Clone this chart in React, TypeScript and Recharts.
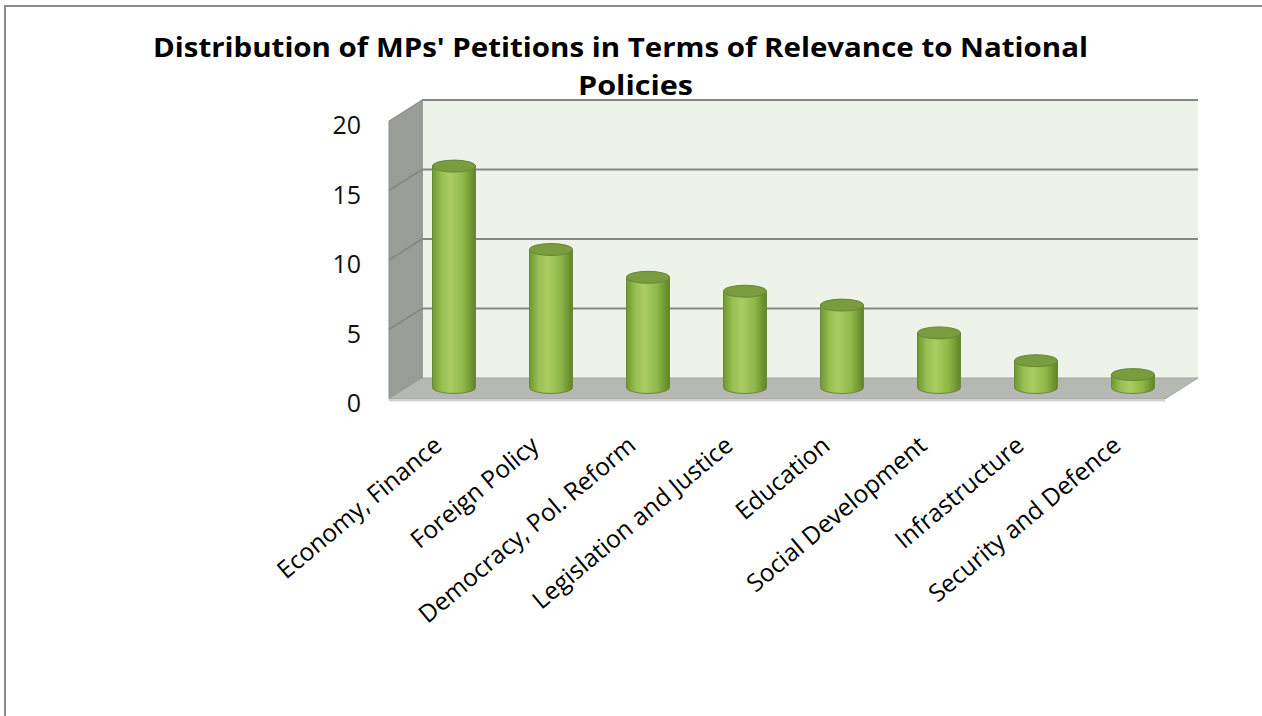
import { BarChart, Bar, XAxis, YAxis } from "recharts";

const categories = [
  "Economy, Finance",
  "Foreign Policy",
  "Democracy, Pol. Reform",
  "Legislation and Justice",
  "Education",
  "Social Development",
  "Infrastructure",
  "Security and Defence",
];
const petitions = [16, 10, 8, 7, 6, 4, 2, 1];
const yTicks = [0, 5, 10, 15, 20];

const data = categories.map((name, i) => ({ name, petitions: petitions[i] }));

// front plane of the 3D box (where the axes sit)
const W = 1262;
const H = 716;
const PL = 389;
const PT = 121;
const PR = 1165;
const PB = 399;
const DEPTH_X = 33;
const DEPTH_Y = -21;
const Y_AXIS_W = 60;
const X_AXIS_H = 30;

const fy = (v: number) => PT + (PB - PT) * (1 - v / 20);
const font = "'Open Sans', sans-serif";

function Cylinder(props: any) {
  const { x, y, width, height } = props;
  if (width == null || height == null) return null;
  const rx = width / 2;
  const ry = 6;
  const cx = x + rx + DEPTH_X / 2;
  const x0 = cx - rx;
  const x1 = cx + rx;
  const yt = y + DEPTH_Y / 2;
  const yb = y + height + DEPTH_Y / 2 - 1;
  return (
    <g>
      <path
        d={`M ${x0} ${yt} L ${x0} ${yb} A ${rx} ${ry} 0 0 0 ${x1} ${yb} L ${x1} ${yt} Z`}
        fill="url(#cylBody)"
        stroke="#67893a"
        strokeWidth={1}
      />
      <ellipse cx={cx} cy={yt} rx={rx} ry={ry} fill="#7a9c3c" stroke="#64863a" strokeWidth={1} />
    </g>
  );
}

function Backdrop() {
  const back = (v: number) => fy(v) + DEPTH_Y;
  return (
    <svg width={W} height={H} style={{ position: "absolute", left: 0, top: 0 }}>
      <path d={`M 5 ${H} L 5 6 L ${W} 6`} fill="none" stroke="#8a8a8a" strokeWidth={2} />
      <text
        x={153}
        y={57}
        textLength={935}
        lengthAdjust="spacingAndGlyphs"
        fontFamily={font}
        fontWeight={700}
        fontSize={26}
        fill="#000"
      >
        Distribution of MPs' Petitions in Terms of Relevance to National
      </text>
      <text
        x={578}
        y={95}
        textLength={115}
        lengthAdjust="spacingAndGlyphs"
        fontFamily={font}
        fontWeight={700}
        fontSize={26}
        fill="#000"
      >
        Policies
      </text>
      {/* back wall */}
      <rect x={PL + DEPTH_X} y={back(20)} width={PR - PL} height={back(0) - back(20)} fill="#eef3ea" />
      <line x1={PL + DEPTH_X} y1={back(20)} x2={PL + DEPTH_X} y2={back(0)} stroke="#9a9a9a" strokeWidth={1.5} />
      {yTicks
        .filter((v) => v > 0)
        .map((v) => (
          <line
            key={v}
            x1={PL + DEPTH_X}
            y1={back(v)}
            x2={PR + DEPTH_X}
            y2={back(v)}
            stroke="#878787"
            strokeWidth={2}
          />
        ))}
      {/* side wall */}
      <polygon
        points={`${PL},${fy(20)} ${PL + DEPTH_X},${back(20)} ${PL + DEPTH_X},${back(0)} ${PL},${PB}`}
        fill="#9a9c98"
        stroke="#8a8c88"
      />
      {yTicks
        .filter((v) => v > 0 && v < 20)
        .map((v) => (
          <line key={v} x1={PL} y1={fy(v)} x2={PL + DEPTH_X} y2={back(v)} stroke="#858783" strokeWidth={1.5} />
        ))}
      {/* floor */}
      <polygon
        points={`${PL},${PB} ${PR},${PB} ${PR + DEPTH_X},${back(0)} ${PL + DEPTH_X},${back(0)}`}
        fill="#b6b8b4"
        stroke="#a3a5a1"
      />
      <line x1={PL} y1={PB + 1.5} x2={PR} y2={PB + 1.5} stroke="#d2d3d1" strokeWidth={2} />
    </svg>
  );
}

export default function App() {
  return (
    <div style={{ position: "absolute", left: 0, top: 0, width: W, height: H, background: "#fff" }}>
      <Backdrop />
      <div style={{ position: "absolute", left: 0, top: 0 }}>
        <BarChart
          width={W}
          height={H}
          data={data}
          margin={{ top: PT, right: W - PR, left: PL - Y_AXIS_W, bottom: H - PB - X_AXIS_H }}
        >
          <defs>
            <linearGradient id="cylBody" x1="0" y1="0" x2="1" y2="0">
              <stop offset="0%" stopColor="#6f9830" />
              <stop offset="22%" stopColor="#98c052" />
              <stop offset="42%" stopColor="#a9cd64" />
              <stop offset="72%" stopColor="#8fb748" />
              <stop offset="100%" stopColor="#5f8427" />
            </linearGradient>
          </defs>
          <XAxis
            dataKey="name"
            height={X_AXIS_H}
            interval={0}
            axisLine={false}
            tickLine={false}
            tick={(p: any) => (
              <text
                x={p.x + 6}
                y={PB + 49}
                transform={`rotate(-40 ${p.x + 6} ${PB + 49})`}
                textAnchor="end"
                fontFamily={font}
                fontSize={24.5}
                fill="#000"
              >
                {p.payload.value}
              </text>
            )}
          />
          <YAxis
            width={Y_AXIS_W}
            domain={[0, 20]}
            ticks={yTicks}
            interval={0}
            axisLine={false}
            tickLine={false}
            tick={(p: any) => (
              <text
                x={361}
                y={p.y + 3}
                textAnchor="end"
                dominantBaseline="central"
                fontFamily={font}
                fontSize={25}
                fill="#111"
              >
                {p.payload.value}
              </text>
            )}
          />
          <Bar dataKey="petitions" barSize={43} shape={Cylinder} isAnimationActive={false} />
        </BarChart>
      </div>
    </div>
  );
}
